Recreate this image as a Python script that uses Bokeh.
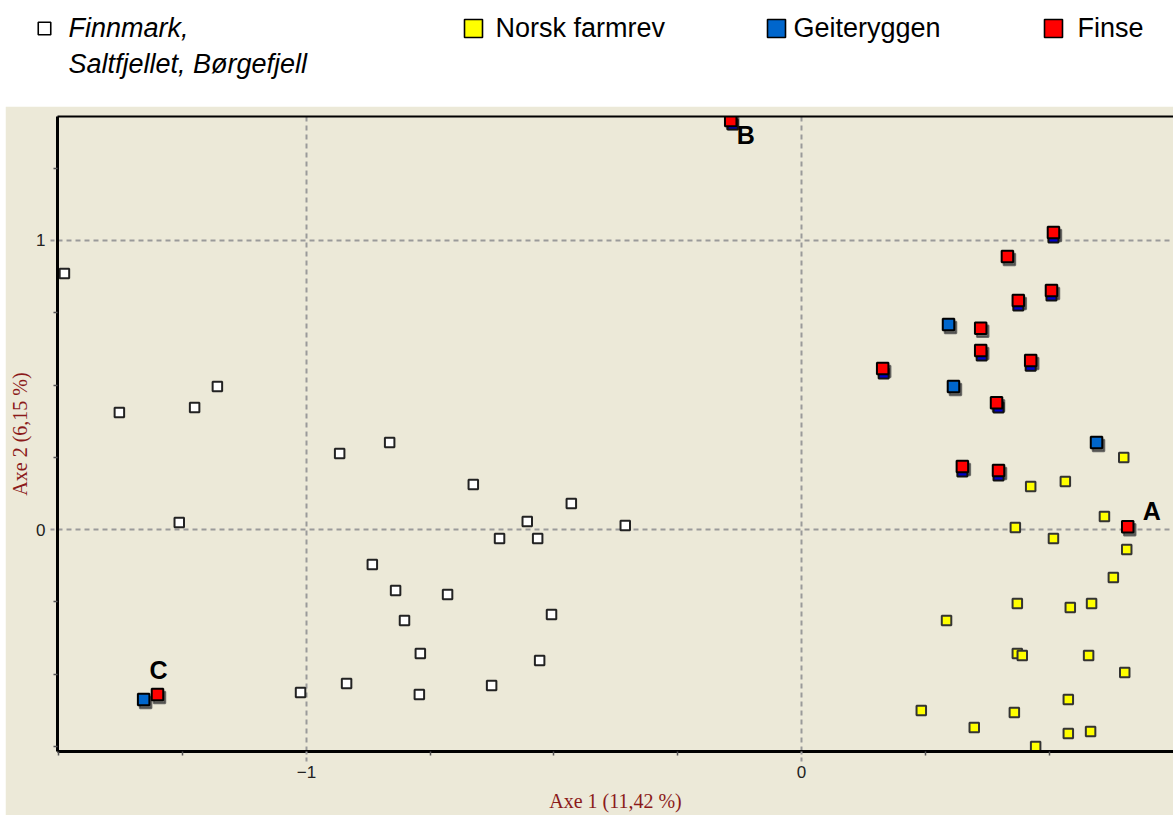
from bokeh.plotting import figure
from bokeh.models import Range1d, FixedTicker, LinearAxis, ColumnDataSource, Spacer
from bokeh.layouts import column, row
from bokeh.core.properties import value
from bokeh.transform import dodge
from bokeh.embed import file_html
from bokeh.resources import INLINE

# ---------------- data ----------------
finn_x = [-1.489, -1.378, -1.226, -1.180, -1.257, -0.933, -0.832, -0.663, -0.465, -0.554,
          -0.610, -0.533, -0.356, -0.867, -0.820, -0.715, -0.802, -0.505, -0.770, -0.529,
          -0.919, -0.626, -0.772, -1.012]
finn_y = [0.886, 0.405, 0.422, 0.495, 0.024, 0.263, 0.301, 0.156, 0.090, 0.028,
          -0.031, -0.031, 0.014, -0.121, -0.211, -0.225, -0.315, -0.294, -0.429, -0.453,
          -0.533, -0.540, -0.571, -0.564]

norsk_x = [0.463, 0.533, 0.651, 0.612, 0.432, 0.509, 0.657, 0.630, 0.436, 0.543,
           0.586, 0.293, 0.436, 0.446, 0.580, 0.653, 0.539, 0.242, 0.430, 0.349,
           0.539, 0.584, 0.473]
norsk_y = [0.149, 0.166, 0.249, 0.045, 0.007, -0.031, -0.069, -0.166, -0.256, -0.270,
           -0.256, -0.315, -0.429, -0.436, -0.436, -0.495, -0.588, -0.626, -0.633, -0.685,
           -0.706, -0.699, -0.751]

# Geiteryggen points lying beneath Finse points
geit_under_x = [0.509, 0.505, 0.438, 0.364, 0.463, 0.166, 0.398, 0.325, 0.398, -0.139]
geit_under_y = [1.010, 0.810, 0.775, 0.602, 0.567, 0.540, 0.422, 0.201, 0.187, 1.401]
# Geiteryggen points fully visible
geit_x = [0.297, 0.307, 0.596, -1.329]
geit_y = [0.709, 0.495, 0.301, -0.588]

finse_x = [0.509, 0.416, 0.505, 0.438, 0.362, 0.362, 0.463, 0.164, 0.394, 0.325,
           0.398, 0.659, -0.143, -1.301]
finse_y = [1.028, 0.945, 0.827, 0.792, 0.696, 0.619, 0.585, 0.557, 0.439, 0.218,
           0.204, 0.010, 1.415, -0.571]

point_labels = ["A", "B", "C"]
point_label_index = [11, 12, 13]          # which Finse points they name

x_ticks = [-1, 0]
y_ticks = [0, 1]
x_minor = [-1.5, -1.25, -0.75, -0.5, -0.25, 0.25, 0.5]
y_minor = [-0.75, -0.5, -0.25, 0.25, 0.5, 0.75, 1.25]

x_title = "Axe 1 (11,42 %)"
y_title = "Axe 2 (6,15 %)"

legend_lines = ["Finnmark,", "Saltfjellet, Børgefjell", "Norsk farmrev", "Geiteryggen", "Finse"]

# ---------------- style / layout ----------------
BEIGE = "#ECE9D8"
TOTAL_W = 1173
LEG_H = 106
PLOT_H = 709
PAD_L = 5
SANS = "Liberation Sans"
SERIF = "Liberation Serif"
TITLE_COLOR = "#8B1A1A"

# ---------- legend strip ----------
leg = figure(width=TOTAL_W, height=LEG_H, x_range=Range1d(0, TOTAL_W), y_range=Range1d(LEG_H, 0),
             output_backend="svg", toolbar_location=None, min_border=0,
             x_axis_location=None, y_axis_location=None,
             background_fill_color="white", border_fill_color="white",
             outline_line_color=None)
leg.grid.visible = False
leg.frame_align = False

sq_x = [44, 473, 776, 1053]
sq_y = [28, 28, 28, 28]
sq_fill = ["white", "#FFFF00", "#0066CC", "#FF0000"]
sq_size = [12.5, 18, 18, 18]
leg.scatter(x=sq_x, y=sq_y, size=sq_size, marker="square", fill_color=sq_fill,
            line_color="black", line_width=1.6)

leg.text(x=[68, 68], y=[27.5, 63], text=legend_lines[:2], text_font=value(SANS),
         text_font_size="27px", text_font_style="italic", text_color="black",
         text_baseline="middle", text_align="left")
leg.text(x=[495, 793, 1077], y=[27.5, 27.5, 27.5], text=legend_lines[2:], text_font=value(SANS),
         text_font_size="27px", text_color="black",
         text_baseline="middle", text_align="left")

# ---------- main plot ----------
X0, X1 = -1.503, 0.7515
Y0, Y1 = -0.768, 1.429
p = figure(width=TOTAL_W - PAD_L, height=PLOT_H, x_range=Range1d(X0, X1), y_range=Range1d(Y0, Y1),
           output_backend="svg", toolbar_location=None,
           min_border_left=52, min_border_right=0, min_border_top=10, min_border_bottom=64,
           background_fill_color=BEIGE, border_fill_color=BEIGE, outline_line_color=None)
p.frame_align = False

p.xaxis.ticker = FixedTicker(ticks=x_ticks, minor_ticks=x_minor)
p.yaxis.ticker = FixedTicker(ticks=y_ticks, minor_ticks=y_minor)
p.xgrid.ticker = FixedTicker(ticks=x_ticks)
p.ygrid.ticker = FixedTicker(ticks=y_ticks)
for g in (p.xgrid, p.ygrid):
    g.grid_line_color = "#9a9a9a"
    g.grid_line_width = 2
    g.grid_line_dash = "5 4"

for ax in (p.xaxis, p.yaxis):
    ax.axis_line_color = "black"
    ax.axis_line_width = 3
    ax.major_tick_in = 0
    ax.major_tick_line_color = "#9a9a9a"
    ax.major_tick_line_width = 2
    ax.major_tick_line_dash = "4 3"
    ax.minor_tick_in = 0
    ax.minor_tick_out = 4
    ax.minor_tick_line_color = "#555555"
    ax.minor_tick_line_width = 1.5
    ax.major_label_text_font = SANS
    ax.major_label_text_font_size = "17px"
    ax.major_label_text_color = "#222222"
    ax.axis_label_text_font = SERIF
    ax.axis_label_text_font_style = "normal"
    ax.axis_label_text_color = TITLE_COLOR
    ax.axis_label_text_font_size = "20px"

p.xaxis.major_tick_out = 10
p.xaxis.major_label_standoff = 4
p.xaxis.axis_label = x_title
p.xaxis.axis_label_standoff = 9

p.yaxis.major_tick_out = 7
p.yaxis.major_label_standoff = 5
p.yaxis.axis_label = y_title
p.yaxis.axis_label_standoff = 2

top = LinearAxis(ticker=FixedTicker(ticks=[]), axis_line_color="black", axis_line_width=2,
                 major_tick_out=0, major_tick_in=0, minor_tick_out=0, minor_tick_in=0,
                 major_label_standoff=0, axis_label_standoff=0,
                 major_label_text_font_size="0px")
p.add_layout(top, "above")

# Finnmark etc. (white)
p.scatter(x=finn_x, y=finn_y, marker="square", size=9.5, fill_color="white",
          line_color="#222222", line_width=2)
# Norsk farmrev (yellow)
p.scatter(x=norsk_x, y=norsk_y, marker="square", size=9.5, fill_color="#FFFF00",
          line_color="#333333", line_width=2)

finse_src = ColumnDataSource(dict(x=finse_x, y=finse_y))
geit_src = ColumnDataSource(dict(x=geit_x, y=geit_y))
DX = 2 / 495.0
DY = -3 / 289.0
# soft shadows under the coloured markers
for src in (finse_src, geit_src):
    p.scatter(x=dodge("x", DX, range=p.x_range), y=dodge("y", DY, range=p.y_range), source=src,
              marker="square", size=11.5, fill_color="#444444", line_color="#444444",
              line_width=2, alpha=0.75)

# Geiteryggen
p.scatter(x=geit_under_x, y=geit_under_y, marker="square", size=10, fill_color="#0000C8",
          line_color="#111111", line_width=2)
p.scatter(x="x", y="y", source=geit_src, marker="square", size=11.5, fill_color="#0066CC",
          line_color="black", line_width=2)
# Finse
p.scatter(x="x", y="y", source=finse_src, marker="square", size=11.5, fill_color="#FF0000",
          line_color="black", line_width=2)

# A, B, C labels next to their Finse points (offsets in screen pixels)
lab_dx = [15, 6, -8]
lab_dy = [-16, 14, -25]
lab_src = ColumnDataSource(dict(
    x=[finse_x[i] for i in point_label_index],
    y=[finse_y[i] for i in point_label_index],
    t=point_labels, dx=lab_dx, dy=lab_dy))
p.text(x="x", y="y", text="t", x_offset="dx", y_offset="dy", source=lab_src,
       text_font=value(SANS), text_font_size="25px", text_font_style="bold",
       text_color="black", text_baseline="middle", text_align="left")

layout = column(leg, row(Spacer(width=PAD_L, height=PLOT_H), p, spacing=0), spacing=0)
open("out.html", "w").write(file_html(layout, INLINE))
